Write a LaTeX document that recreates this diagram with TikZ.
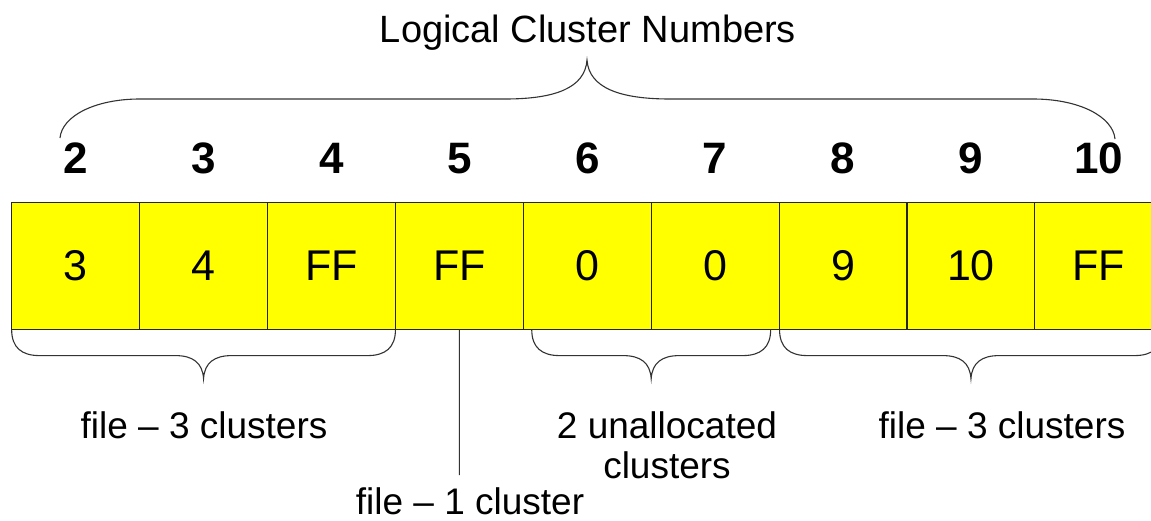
\documentclass[tikz,border=0pt]{standalone}
\usepackage{fontspec}
\setmainfont{Liberation Sans}
\usetikzlibrary{calc}
\definecolor{cellyellow}{RGB}{255,255,0}
\newcommand\BraceBelow[4]{% left node, right node, name, inset
  \coordinate (#3l) at ($(#1.south west)+(#4,0)$);
  \coordinate (#3r) at ($(#2.south east)+(-#4,0)$);
  \coordinate (#3m) at ($(#3l)!0.5!(#3r)+(0,49)$);
  \draw[bracestyle] (#3l) .. controls ($(#3l)+(0,18)$) and ($(#3l)+(10,26)$) .. ($(#3l)+(28,26)$)
    -- ($(#3m)+(-28,-23)$) .. controls ($(#3m)+(-11,-23)$) and ($(#3m)+(-1,-16)$) .. (#3m)
    .. controls ($(#3m)+(1,-16)$) and ($(#3m)+(11,-23)$) .. ($(#3m)+(28,-23)$)
    -- ($(#3r)+(-28,26)$) .. controls ($(#3r)+(-10,26)$) and ($(#3r)+(0,18)$) .. (#3r);
}
\begin{document}
\begin{tikzpicture}[x=1pt,y=-1pt,
  cell/.style={draw=black!85, line width=1.1pt, fill=cellyellow, minimum width=127.9pt,
    minimum height=126.3pt, inner sep=0pt, font=\fontsize{43}{50}\selectfont},
  num/.style={font=\fontsize{44}{50}\selectfont\bfseries, inner sep=0pt, anchor=base},
  lbl/.style={font=\fontsize{37}{40}\selectfont, inner sep=0pt, anchor=base},
  bracestyle/.style={draw=black!80, line width=1.1pt},
]
\useasboundingbox (0,0) rectangle (1151,520);
\clip (0,0) rectangle (1151,520);
\fill[white] (0,0) rectangle (1151,520);

% title
\node[lbl, font=\fontsize{38}{42}\selectfont] (title) at (588,42) {Logical Cluster Numbers};

% cells and cluster numbers
\foreach \i/\v in {2/3,3/4,4/FF,5/FF,6/0,7/0,8/9,9/10,10/FF} {
  \node[cell] (c\i) at ({75.65+127.9*(\i-2)},265.9) {\v};
  \node[num] (n\i) at ({75.65+127.9*(\i-2)},173) {\i};
}

% top brace
\coordinate (tbl) at (60,138);
\coordinate (tbr) at (1115,139);
\coordinate (tbm) at (587,60);
\draw[bracestyle] (tbl) .. controls (62,116) and (95,99) .. (140,99) -- (505,99)
  .. controls (555,99) and (585,88) .. (tbm)
  .. controls (589,88) and (620,99) .. (670,99) -- (1033,99)
  .. controls (1080,99) and (1113,117) .. (tbr);

% bottom braces
\BraceBelow{c2}{c4}{ba}{0.5}
\BraceBelow{c6}{c7}{bb}{9}
\BraceBelow{c8}{c10}{bc}{1}

% single-cluster pointer
\coordinate (vl) at (459.35,475);
\draw[bracestyle] (c5.south) -- (vl);

% labels
\node[lbl] (l1) at (204,438) {file – 3 clusters};
\node[lbl, anchor=north, align=center] (l2) at (667,411.5) {2 unallocated\\clusters};
\node[lbl] (l3) at (1002,438) {file – 3 clusters};
\node[lbl] (l4) at (470,514) {file – 1 cluster};
\end{tikzpicture}
\end{document}
